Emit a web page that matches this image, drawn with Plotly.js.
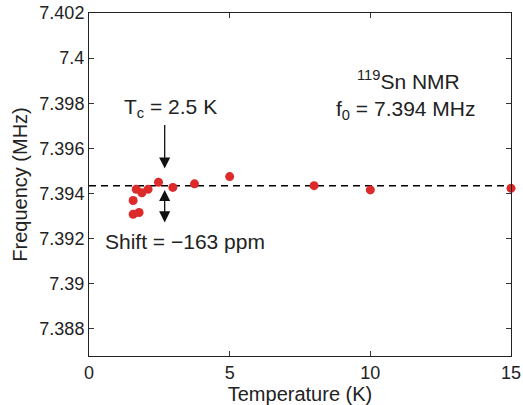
<!DOCTYPE html>
<html>
<head>
<meta charset="utf-8">
<script src="https://cdn.plot.ly/plotly-3.0.1.min.js"></script>
<style>html,body{margin:0;padding:0;background:#fff;}#plot{width:523px;height:405px;}</style>
</head>
<body>
<div id="plot"></div>
<script>
// Data
var temperature = [1.57, 1.57, 1.68, 1.78, 1.88, 2.1, 2.47, 2.98, 3.75, 5.0, 8.0, 10.0, 15.0];
var frequency = [7.39308, 7.39369, 7.39419, 7.39316, 7.39403, 7.39419, 7.3945, 7.39427, 7.39443, 7.39475, 7.39435, 7.39416, 7.39423];
var refLineX = [0, 15];
var refLineY = [7.39435, 7.39435];
var xTicks = [0, 5, 10, 15];
var yTicks = [7.388, 7.39, 7.392, 7.394, 7.396, 7.398, 7.4, 7.402];
var yTickLabels = ['7.388', '7.39', '7.392', '7.394', '7.396', '7.398', '7.4', '7.402'];
var tcArrow = {x: 2.69, tail: 7.3971, head: 7.39511};
var shiftArrow = {x: 2.69, top: 7.39422, bottom: 7.39272};

var font = 'Liberation Sans, Arial, Helvetica, sans-serif';
var L = 89, R = 12, T = 13, B = 49, W = 523, H = 405;
var pw = W - L - R, ph = H - T - B;

var traces = [
  {x: refLineX, y: refLineY, mode: 'lines', line: {color: '#000', width: 1.5, dash: '7px,5px'}, hoverinfo: 'skip', cliponaxis: false},
  {x: temperature, y: frequency, mode: 'markers', marker: {color: '#dd2a2a', size: 9, line: {width: 0}}, cliponaxis: false}
];

var layout = {
  width: W, height: H,
  margin: {l: L, r: R, t: T, b: B},
  paper_bgcolor: '#fff', plot_bgcolor: '#fff',
  showlegend: false,
  font: {family: font, color: '#222', size: 18},
  xaxis: {
    range: [0, 15], tickvals: xTicks, ticks: 'inside', ticklen: 5, tickcolor: '#333',
    showline: true, linecolor: '#222', linewidth: 1, mirror: 'ticks', showgrid: false, zeroline: false,
    ticklabeloverflow: 'allow', automargin: false,
    tickfont: {size: 18, family: font, color: '#222'},
    title: {text: 'Temperature (K)', font: {size: 20, family: font, color: '#222'}, standoff: 0}
  },
  yaxis: {
    range: [7.3868, 7.402], tickvals: yTicks, ticktext: yTickLabels, ticks: 'inside', ticklen: 5, tickcolor: '#333',
    showline: true, linecolor: '#222', linewidth: 1, mirror: 'ticks', showgrid: false, zeroline: false,
    automargin: false,
    tickfont: {size: 18, family: font, color: '#222'},
    title: {text: 'Frequency (MHz)', font: {size: 20, family: font, color: '#222'}, standoff: 6}
  },
  annotations: [
    {xref: 'x', yref: 'y', axref: 'x', ayref: 'y', x: tcArrow.x, y: tcArrow.head, ax: tcArrow.x, ay: tcArrow.tail,
     text: '', showarrow: true, arrowhead: 2, arrowsize: 1.7, arrowwidth: 1.3, arrowcolor: '#111'},
    {xref: 'x', yref: 'y', axref: 'x', ayref: 'y', x: shiftArrow.x, y: shiftArrow.bottom, ax: shiftArrow.x, ay: shiftArrow.top,
     text: '', showarrow: true, arrowhead: 2, startarrowhead: 2, arrowside: 'end+start', arrowsize: 1.7, startarrowsize: 1.7, arrowwidth: 1.3, arrowcolor: '#111'},
    {xref: 'paper', yref: 'paper', x: (170 - L) / pw, y: (H - B - 108) / ph, xanchor: 'center', yanchor: 'middle',
     text: 'T<sub>c</sub> = 2.5 K', showarrow: false, font: {size: 21, family: font, color: '#222'}},
    {xref: 'paper', yref: 'paper', x: (185 - L) / pw, y: (H - B - 241) / ph, xanchor: 'center', yanchor: 'middle',
     text: 'Shift = \u2212163 ppm', showarrow: false, font: {size: 21, family: font, color: '#222'}},
    {xref: 'paper', yref: 'paper', x: (408 - L) / pw, y: (H - B - 80) / ph, xanchor: 'center', yanchor: 'middle',
     text: '<sup>119</sup>Sn NMR', showarrow: false, font: {size: 21, family: font, color: '#222'}},
    {xref: 'paper', yref: 'paper', x: (406 - L) / pw, y: (H - B - 110) / ph, xanchor: 'center', yanchor: 'middle',
     text: 'f<sub>0</sub> = 7.394 MHz', showarrow: false, font: {size: 21, family: font, color: '#222'}}
  ]
};

Plotly.newPlot('plot', traces, layout, {displayModeBar: false, staticPlot: true});
</script>
</body>
</html>
